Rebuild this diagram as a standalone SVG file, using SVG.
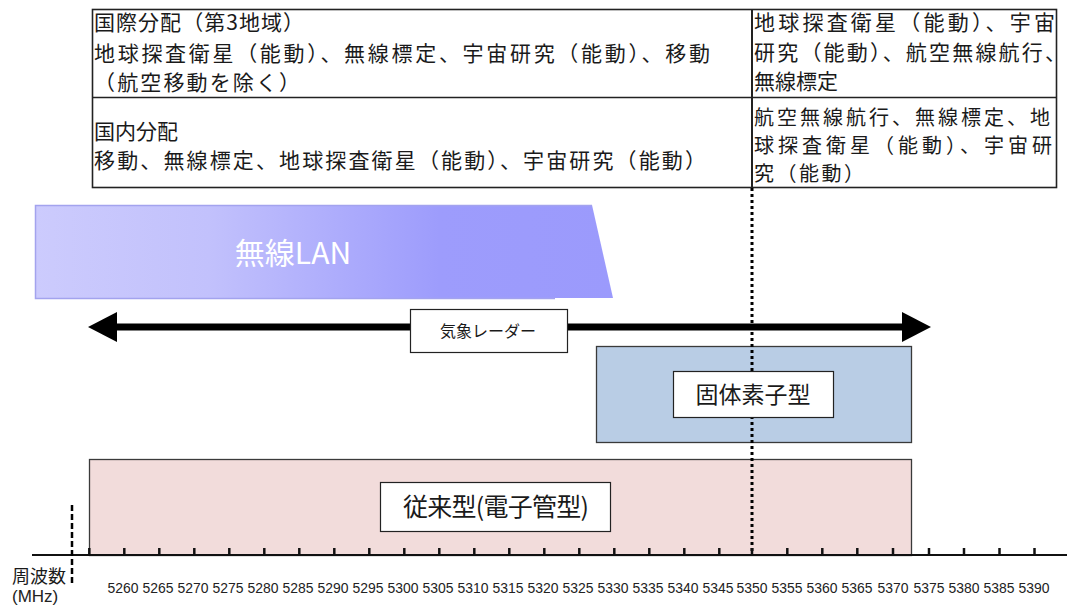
<svg xmlns="http://www.w3.org/2000/svg" width="1067" height="606" viewBox="0 0 1067 606">
<style>
.jp{font-family:"Noto Sans CJK JP","Noto Sans",sans-serif;fill:#1a1a1a}
.tb{font-size:21px}
.tc{font-size:20px}
.num{font-family:"Liberation Sans",Arial,sans-serif;font-size:15px;fill:#222;text-anchor:middle}
.box{stroke:#3a3a3a;stroke-width:1.3}
.lbl{fill:#fff;stroke:#222;stroke-width:1.2}
.tick{stroke:#111;stroke-width:2.5}
</style>
<defs>
<linearGradient id="wl" gradientUnits="userSpaceOnUse" x1="35" y1="0" x2="613" y2="0">
<stop offset="0" stop-color="#cccbfd"/>
<stop offset="0.3" stop-color="#c2c1fc"/>
<stop offset="0.7" stop-color="#9d9cfc"/>
<stop offset="1" stop-color="#9b9afc"/>
</linearGradient>
</defs>
<rect width="1067" height="606" fill="#fff"/>

<g id="table">
<rect x="92.5" y="9.5" width="964" height="178" fill="#fff" stroke="#222" stroke-width="1.6"/>
<line x1="92.5" y1="97.5" x2="1056.5" y2="97.5" stroke="#222" stroke-width="1.6"/>
<line x1="752" y1="9.5" x2="752" y2="187.5" stroke="#222" stroke-width="2"/>
<text class="jp tb" x="94" y="30" textLength="210" lengthAdjust="spacing">国際分配（第3地域）</text>
<text class="jp tb" x="94" y="61" textLength="616" lengthAdjust="spacing">地球探査衛星（能動）、無線標定、宇宙研究（能動）、移動</text>
<text class="jp tb" x="94" y="90" textLength="206" lengthAdjust="spacing">（航空移動を除く）</text>
<text class="jp tb" x="94" y="139" textLength="84" lengthAdjust="spacing">国内分配</text>
<text class="jp tb" x="94" y="168" textLength="612" lengthAdjust="spacing">移動、無線標定、地球探査衛星（能動）、宇宙研究（能動）</text>
<text class="jp tb" x="754" y="30" textLength="301" lengthAdjust="spacing">地球探査衛星（能動）、宇宙</text>
<text class="jp tb" x="754" y="60" textLength="312" lengthAdjust="spacing">研究（能動）、航空無線航行、</text>
<text class="jp tb" x="754" y="89" textLength="84" lengthAdjust="spacing">無線標定</text>
<text class="jp tc" x="754" y="125" textLength="296" lengthAdjust="spacing">航空無線航行、無線標定、地</text>
<text class="jp tc" x="754" y="153" textLength="298" lengthAdjust="spacing">球探査衛星（能動）、宇宙研</text>
<text class="jp tc" x="754" y="181" textLength="110" lengthAdjust="spacing">究（能動）</text>
</g>

<g id="wlan">
<polygon points="35,205 592,205 613,298 35,298" fill="url(#wl)"/>
<polyline points="555,298.5 35.5,298.5 35.5,205.5 592,205.5" fill="none" stroke="#a3a3ee" stroke-width="1.5"/>
<text class="jp" x="293" y="264" font-size="30" style="fill:#fff" text-anchor="middle">無線LAN</text>
</g>

<g id="solid-state">
<rect class="box" x="596.5" y="346.5" width="315" height="96" fill="#b9cde5"/>
</g>

<g id="conventional">
<rect class="box" x="89.5" y="459.5" width="822" height="96" fill="#f2dcdb"/>
</g>

<g id="connectors">
<line x1="110" y1="327" x2="910" y2="327" stroke="#000" stroke-width="7"/>
<polygon points="88,327 117,312 117,342" fill="#000"/>
<polygon points="931,327 902,312 902,342" fill="#000"/>
<line x1="752" y1="188" x2="752" y2="553" stroke="#000" stroke-width="3" stroke-dasharray="3 3"/>
</g>

<g id="radar">
<rect class="lbl" x="410.5" y="309.5" width="157" height="43"/>
<text class="jp" x="488" y="337" font-size="16" text-anchor="middle">気象レーダー</text>
</g>

<g id="solid-state-label">
<rect class="lbl" x="673.5" y="371.5" width="160" height="46"/>
<text class="jp" x="753" y="403" font-size="23" text-anchor="middle">固体素子型</text>
</g>

<g id="conventional-label">
<rect class="lbl" x="380.5" y="482.5" width="230" height="49"/>
<text class="jp" x="496" y="516" font-size="25" text-anchor="middle" textLength="186" lengthAdjust="spacing">従来型(電子管型)</text>
</g>

<g id="axis">
<line x1="32" y1="555" x2="1067" y2="555" stroke="#111" stroke-width="2"/>
<line x1="72" y1="505" x2="72" y2="586" stroke="#000" stroke-width="2.5" stroke-dasharray="6 3"/>
<g class="tick">
<line x1="89.3" y1="548" x2="89.3" y2="556"/><line x1="124.3" y1="548" x2="124.3" y2="556"/><line x1="159.3" y1="548" x2="159.3" y2="556"/><line x1="194.3" y1="548" x2="194.3" y2="556"/><line x1="229.3" y1="548" x2="229.3" y2="556"/><line x1="264.3" y1="548" x2="264.3" y2="556"/><line x1="299.3" y1="548" x2="299.3" y2="556"/><line x1="334.3" y1="548" x2="334.3" y2="556"/><line x1="369.3" y1="548" x2="369.3" y2="556"/><line x1="404.3" y1="548" x2="404.3" y2="556"/><line x1="439.3" y1="548" x2="439.3" y2="556"/><line x1="474.3" y1="548" x2="474.3" y2="556"/><line x1="509.3" y1="548" x2="509.3" y2="556"/><line x1="544.3" y1="548" x2="544.3" y2="556"/><line x1="579.3" y1="548" x2="579.3" y2="556"/><line x1="614.3" y1="548" x2="614.3" y2="556"/><line x1="649.3" y1="548" x2="649.3" y2="556"/><line x1="684.3" y1="548" x2="684.3" y2="556"/><line x1="719.3" y1="548" x2="719.3" y2="556"/><line x1="752" y1="548" x2="752" y2="556"/><line x1="787.3" y1="548" x2="787.3" y2="556"/><line x1="822.3" y1="548" x2="822.3" y2="556"/><line x1="857.3" y1="548" x2="857.3" y2="556"/><line x1="893" y1="548" x2="893" y2="556"/><line x1="929" y1="548" x2="929" y2="556"/><line x1="964" y1="548" x2="964" y2="556"/><line x1="999.5" y1="548" x2="999.5" y2="556"/><line x1="1034.5" y1="548" x2="1034.5" y2="556"/>
</g>
<text class="num" x="123" y="593" textLength="31" lengthAdjust="spacingAndGlyphs">5260</text>
<text class="num" x="158" y="593" textLength="31" lengthAdjust="spacingAndGlyphs">5265</text>
<text class="num" x="193" y="593" textLength="31" lengthAdjust="spacingAndGlyphs">5270</text>
<text class="num" x="228" y="593" textLength="31" lengthAdjust="spacingAndGlyphs">5275</text>
<text class="num" x="263" y="593" textLength="31" lengthAdjust="spacingAndGlyphs">5280</text>
<text class="num" x="298" y="593" textLength="31" lengthAdjust="spacingAndGlyphs">5285</text>
<text class="num" x="333" y="593" textLength="31" lengthAdjust="spacingAndGlyphs">5290</text>
<text class="num" x="368" y="593" textLength="31" lengthAdjust="spacingAndGlyphs">5295</text>
<text class="num" x="403" y="593" textLength="31" lengthAdjust="spacingAndGlyphs">5300</text>
<text class="num" x="438" y="593" textLength="31" lengthAdjust="spacingAndGlyphs">5305</text>
<text class="num" x="473" y="593" textLength="31" lengthAdjust="spacingAndGlyphs">5310</text>
<text class="num" x="508" y="593" textLength="31" lengthAdjust="spacingAndGlyphs">5315</text>
<text class="num" x="543" y="593" textLength="31" lengthAdjust="spacingAndGlyphs">5320</text>
<text class="num" x="578" y="593" textLength="31" lengthAdjust="spacingAndGlyphs">5325</text>
<text class="num" x="613" y="593" textLength="31" lengthAdjust="spacingAndGlyphs">5330</text>
<text class="num" x="648" y="593" textLength="31" lengthAdjust="spacingAndGlyphs">5335</text>
<text class="num" x="683" y="593" textLength="31" lengthAdjust="spacingAndGlyphs">5340</text>
<text class="num" x="718" y="593" textLength="31" lengthAdjust="spacingAndGlyphs">5345</text>
<text class="num" x="752" y="593" textLength="31" lengthAdjust="spacingAndGlyphs">5350</text>
<text class="num" x="787" y="593" textLength="31" lengthAdjust="spacingAndGlyphs">5355</text>
<text class="num" x="822" y="593" textLength="31" lengthAdjust="spacingAndGlyphs">5360</text>
<text class="num" x="857" y="593" textLength="31" lengthAdjust="spacingAndGlyphs">5365</text>
<text class="num" x="893" y="593" textLength="31" lengthAdjust="spacingAndGlyphs">5370</text>
<text class="num" x="929" y="593" textLength="31" lengthAdjust="spacingAndGlyphs">5375</text>
<text class="num" x="964" y="593" textLength="31" lengthAdjust="spacingAndGlyphs">5380</text>
<text class="num" x="999" y="593" textLength="31" lengthAdjust="spacingAndGlyphs">5385</text>
<text class="num" x="1034" y="593" textLength="31" lengthAdjust="spacingAndGlyphs">5390</text>
<text class="jp" x="12" y="583" font-size="18">周波数</text>
<text x="12" y="602" font-family="Liberation Sans, Arial, sans-serif" font-size="17" fill="#222">(MHz)</text>
</g>
</svg>
